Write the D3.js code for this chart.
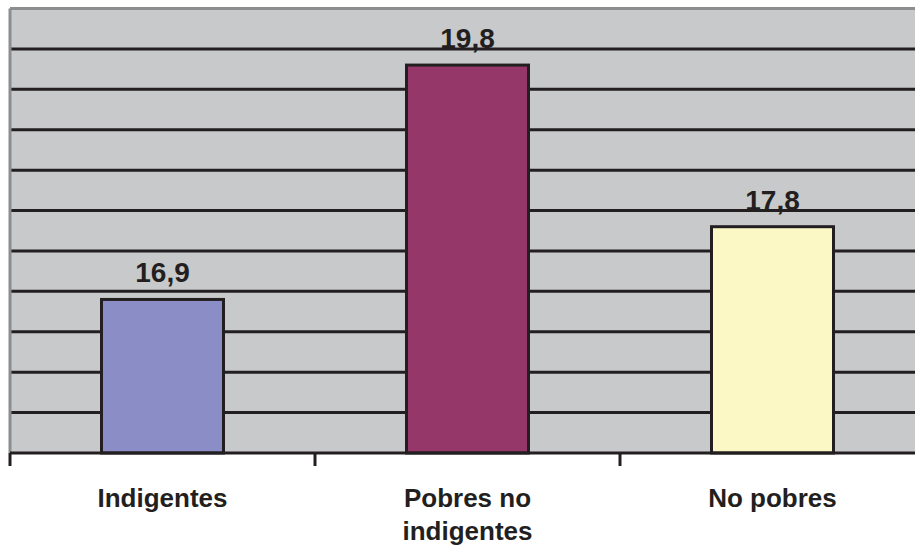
<!DOCTYPE html>
<html>
<head>
<meta charset="utf-8">
<script src="https://cdn.jsdelivr.net/npm/d3@7"></script>
<style>
  html, body { margin: 0; padding: 0; background: #ffffff; }
  svg { display: block; }
</style>
</head>
<body>
<svg id="chart" width="915" height="547"></svg>
<script>
const categories = [["Indigentes"], ["Pobres no", "indigentes"], ["No pobres"]];
const values = [16.9, 19.8, 17.8];
const valueLabels = ["16,9", "19,8", "17,8"];
const barColors = ["#8b8ec6", "#953769", "#fbf8c6"];
const yDomain = [15, 20.5];
const gridStep = 0.5;

(function () {
const svg = d3.select("#chart");
const pLeft = 10, pRight = 925, pTop = 8.5, pBottom = 453;

const keys = categories.map((c, i) => i);
const x = d3.scaleBand().domain(keys).range([pLeft, pRight]).paddingInner(0.6).paddingOuter(0.3);
const xBand = d3.scaleBand().domain(keys).range([pLeft, pRight]);
const y = d3.scaleLinear().domain(yDomain).range([pBottom, pTop]);

// plot background
svg.append("rect")
  .attr("x", pLeft).attr("y", pTop)
  .attr("width", pRight - pLeft).attr("height", pBottom - pTop)
  .attr("fill", "#c8c9cb");

// gridlines
const gridVals = d3.range(yDomain[0] + gridStep, yDomain[1] - 1e-9, gridStep);
svg.append("g").selectAll("line").data(gridVals).enter().append("line")
  .attr("x1", pLeft).attr("x2", pRight)
  .attr("y1", d => y(d)).attr("y2", d => y(d))
  .attr("stroke", "#231f20").attr("stroke-width", 3);

// top and left border (gray)
svg.append("line").attr("x1", pLeft).attr("x2", pRight).attr("y1", pTop).attr("y2", pTop)
  .attr("stroke", "#8c8d8f").attr("stroke-width", 3);
svg.append("line").attr("x1", pLeft).attr("x2", pLeft).attr("y1", pTop).attr("y2", pBottom)
  .attr("stroke", "#8c8d8f").attr("stroke-width", 3);

// bars
svg.append("g").selectAll("rect").data(values).enter().append("rect")
  .attr("x", (d, i) => x(i))
  .attr("y", d => y(d))
  .attr("width", x.bandwidth())
  .attr("height", d => pBottom - y(d))
  .attr("fill", (d, i) => barColors[i])
  .attr("stroke", "#231f20").attr("stroke-width", 3);

// x axis
const axis = svg.append("g").attr("transform", `translate(0,${pBottom})`);
axis.append("line").attr("x1", pLeft).attr("x2", pRight).attr("y1", 0).attr("y2", 0)
  .attr("stroke", "#231f20").attr("stroke-width", 3);
const tickPos = keys.map(k => xBand(k)).concat([pRight]);
axis.selectAll("line.tick").data(tickPos).enter().append("line")
  .attr("class", "tick")
  .attr("x1", d => d).attr("x2", d => d).attr("y1", 0).attr("y2", 13)
  .attr("stroke", "#231f20").attr("stroke-width", 3);

// category labels
const labG = svg.append("g")
  .attr("font-family", "Liberation Sans, Arial, sans-serif")
  .attr("font-weight", "bold").attr("font-size", 26).attr("fill", "#231f20")
  .attr("text-anchor", "middle");
categories.forEach((lines, i) => {
  const cx = xBand(i) + xBand.bandwidth() / 2;
  const t = labG.append("text").attr("x", cx).attr("y", 507);
  lines.forEach((ln, j) => {
    t.append("tspan").attr("x", cx).attr("dy", j === 0 ? 0 : 33).text(ln);
  });
});

// value labels
svg.append("g").selectAll("text").data(values).enter().append("text")
  .attr("x", (d, i) => x(i) + x.bandwidth() / 2)
  .attr("y", d => y(d) - 17)
  .attr("text-anchor", "middle")
  .attr("font-family", "Liberation Sans, Arial, sans-serif")
  .attr("font-weight", "bold").attr("font-size", 28).attr("fill", "#231f20")
  .text((d, i) => valueLabels[i]);
})();
</script>
</body>
</html>
